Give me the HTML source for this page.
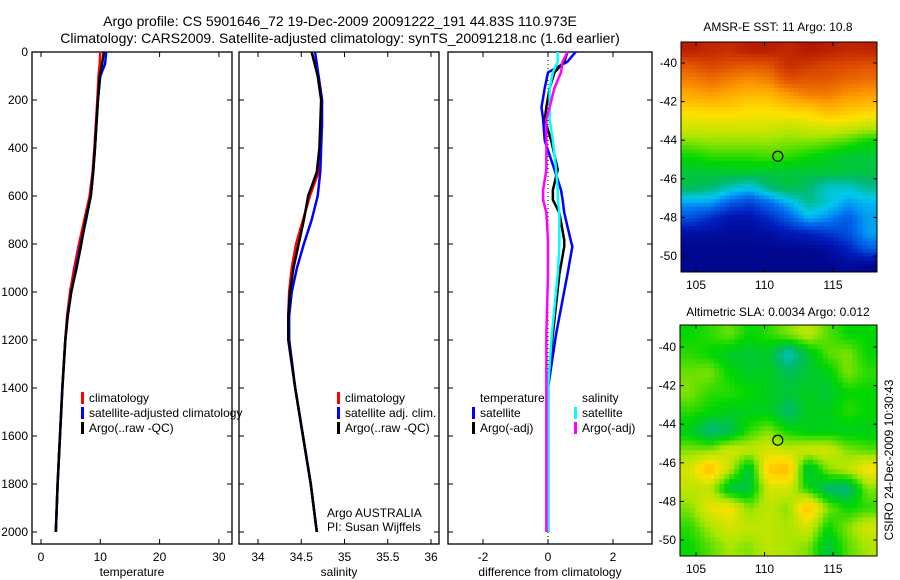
<!DOCTYPE html>
<html><head><meta charset="utf-8"><style>
body{margin:0;background:#fff;}
svg{display:block;font-family:"Liberation Sans",sans-serif;}
</style></head><body>
<svg id="s" width="900" height="580" xmlns="http://www.w3.org/2000/svg">
<text x="340" y="26" font-size="14" text-anchor="middle">Argo profile: CS 5901646_72 19-Dec-2009 20091222_191 44.83S 110.973E</text>
<text x="340" y="43" font-size="14" text-anchor="middle">Climatology: CARS2009. Satellite-adjusted climatology: synTS_20091218.nc (1.6d earlier)</text>
<text x="778" y="31" font-size="12" text-anchor="middle">AMSR-E SST: 11 Argo: 10.8</text>
<text x="778" y="316" font-size="12" text-anchor="middle">Altimetric SLA: 0.0034 Argo: 0.012</text>
<text transform="translate(893,460) rotate(-90)" font-size="12" text-anchor="middle">CSIRO 24-Dec-2009 10:30:43</text>
<g id="g"></g>
</svg>
<script>
// ---------- data ----------
const depthTemp=[0,50,100,200,400,500,600,700,800,900,1000,1100,1200,1400,1600,1800,2000];
const tempClim=[10.0,9.9,9.7,9.5,9.0,8.7,8.2,7.3,6.4,5.6,4.9,4.4,4.1,3.6,3.2,2.8,2.5];
const tempSat=[11.0,10.8,10.0,9.6,9.1,8.8,8.4,7.6,6.7,5.9,5.1,4.5,4.1,3.6,3.2,2.8,2.5];
const tempArgo=[10.6,10.3,9.9,9.6,9.1,8.8,8.4,7.5,6.8,6.0,5.1,4.5,4.1,3.6,3.2,2.8,2.5];
const depthSal=[0,100,200,300,400,500,600,700,800,900,1000,1100,1200,1400,1600,1800,2000];
const salClim=[34.62,34.70,34.74,34.73,34.72,34.70,34.60,34.52,34.44,34.39,34.36,34.35,34.36,34.43,34.52,34.61,34.68];
const salSat=[34.66,34.70,34.74,34.74,34.73,34.72,34.69,34.62,34.53,34.45,34.39,34.36,34.36,34.43,34.52,34.61,34.68];
const salArgo=[34.62,34.69,34.73,34.72,34.71,34.68,34.58,34.53,34.47,34.41,34.37,34.35,34.35,34.43,34.52,34.61,34.68];
const depthDiff=[0,40,85,150,230,280,370,490,575,616,670,785,810,925,1175,1400,1700,2000];
const dTempSat=[0.85,0.6,0.0,-0.1,-0.2,-0.15,-0.1,0.2,0.4,0.45,0.5,0.7,0.75,0.6,0.25,0.0,0.0,0.0];
const dTempArgo=[0.6,0.5,0.2,0.05,-0.05,-0.1,0.1,0.3,0.15,0.15,0.35,0.5,0.5,0.35,0.15,0.0,0.0,0.0];
const dSalSat=[0.3,0.3,0.15,0.05,0.05,0.05,0.15,0.25,0.3,0.3,0.35,0.35,0.35,0.3,0.12,0.0,0.0,0.0];
const dSalArgo=[0.6,0.45,0.4,0.2,0.05,-0.05,-0.05,-0.05,-0.15,-0.15,-0.05,0.0,0.0,0.0,-0.05,-0.05,-0.05,-0.05];
const sstGrid=[
[0.95,0.93,0.92,0.95,0.95,0.93,0.96,0.95,0.93,0.94],
[0.85,0.88,0.86,0.85,0.86,0.92,0.9,0.88,0.87,0.86],
[0.80,0.82,0.80,0.78,0.80,0.86,0.85,0.85,0.83,0.82],
[0.74,0.76,0.74,0.72,0.72,0.76,0.80,0.80,0.77,0.76],
[0.67,0.68,0.68,0.66,0.66,0.68,0.68,0.72,0.70,0.68],
[0.62,0.62,0.62,0.62,0.62,0.60,0.62,0.63,0.62,0.60],
[0.56,0.57,0.57,0.57,0.57,0.56,0.56,0.55,0.53,0.50],
[0.50,0.52,0.52,0.52,0.53,0.52,0.50,0.48,0.46,0.46],
[0.46,0.46,0.47,0.47,0.46,0.46,0.46,0.46,0.46,0.45],
[0.44,0.42,0.38,0.34,0.42,0.45,0.42,0.36,0.36,0.40],
[0.30,0.30,0.22,0.18,0.24,0.32,0.40,0.36,0.30,0.32],
[0.20,0.14,0.08,0.08,0.14,0.22,0.32,0.28,0.22,0.30],
[0.06,0.06,0.05,0.05,0.06,0.10,0.12,0.16,0.20,0.30],
[0.03,0.03,0.03,0.03,0.03,0.03,0.03,0.05,0.12,0.22],
[0.03,0.03,0.03,0.03,0.03,0.03,0.03,0.03,0.05,0.03]];
const slaGrid=[
[0.50,0.52,0.55,0.50,0.52,0.56,0.60,0.54,0.50,0.50],
[0.52,0.50,0.47,0.46,0.47,0.36,0.46,0.54,0.56,0.50],
[0.55,0.56,0.50,0.47,0.48,0.44,0.46,0.48,0.56,0.52],
[0.56,0.52,0.52,0.50,0.48,0.46,0.48,0.46,0.50,0.50],
[0.52,0.50,0.48,0.48,0.48,0.42,0.48,0.48,0.52,0.50],
[0.48,0.41,0.43,0.52,0.56,0.50,0.48,0.48,0.48,0.48],
[0.56,0.56,0.62,0.60,0.62,0.60,0.62,0.62,0.56,0.54],
[0.62,0.72,0.60,0.45,0.70,0.72,0.44,0.56,0.60,0.66],
[0.60,0.60,0.45,0.45,0.62,0.62,0.50,0.42,0.40,0.56],
[0.56,0.64,0.66,0.56,0.60,0.56,0.72,0.56,0.50,0.52],
[0.52,0.58,0.62,0.60,0.60,0.58,0.62,0.50,0.56,0.62],
[0.50,0.54,0.58,0.56,0.60,0.58,0.56,0.45,0.54,0.58]];
// ---------- helpers ----------
const NS='http://www.w3.org/2000/svg';
const G=document.getElementById('g');
function mk(t,a,p){const e=document.createElementNS(NS,t);for(const k in a)e.setAttribute(k,a[k]);(p||G).appendChild(e);return e;}
const STOPS=[[0,[0,0,128]],[0.12,[0,30,190]],[0.25,[0,110,240]],[0.34,[0,200,240]],[0.42,[0,185,110]],[0.5,[0,215,0]],[0.58,[170,230,0]],[0.66,[255,225,0]],[0.76,[255,160,0]],[0.86,[225,80,0]],[1,[160,0,0]]];
function cmap(v){v=Math.max(0,Math.min(1,v));
 for(let i=1;i<STOPS.length;i++){if(v<=STOPS[i][0]){const a=STOPS[i-1],b=STOPS[i],t=(v-a[0])/(b[0]-a[0]);
  return 'rgb('+a[1].map((c,k)=>Math.round(c+(b[1][k]-c)*t)).join(',')+')';}}
 return 'rgb(160,0,0)';}
const yDepth=d=>52+d*0.24;
const TOP=52,BOT=544;
function panel(name,x0,x1,ticks,xf,xlabel){
 const r=mk('rect',{x:x0,y:TOP,width:x1-x0,height:BOT-TOP,fill:'none',stroke:'#000','stroke-width':1.3});
 
 
 ticks.forEach(t=>{const x=xf(t);
  mk('line',{x1:x,x2:x,y1:BOT,y2:BOT-5,stroke:'#000'});mk('line',{x1:x,x2:x,y1:TOP,y2:TOP+5,stroke:'#000'});
  const tx=mk('text',{x:x,y:BOT+17,'font-size':12,'text-anchor':'middle'});tx.textContent=t;
  
  });
 for(let d=0;d<=2000;d+=200){const y=yDepth(d);
  mk('line',{x1:x0,x2:x0+5,y1:y,y2:y,stroke:'#000'});mk('line',{x1:x1,x2:x1-5,y1:y,y2:y,stroke:'#000'});}
 const xl=mk('text',{x:(x0+x1)/2,y:576,'font-size':12,'text-anchor':'middle'});xl.textContent=xlabel;
 
 
}
function line(name,ds,vs,xf,col,w){
 const p=mk('polyline',{points:ds.map((d,i)=>xf(vs[i])+','+yDepth(d)).join(' '),fill:'none',stroke:col,'stroke-width':w||2.5});
 
 
}
function legend(name,x,y,items){items.forEach((it,i)=>{
 mk('rect',{x:x,y:y+i*15-10,width:3,height:12,fill:it[1]});
 const t=mk('text',{x:x+8,y:y+i*15,'font-size':12});t.textContent=it[0];
 
 });}
for(let d=0;d<=2000;d+=200){const t=mk('text',{x:28,y:yDepth(d)+4,'font-size':12,'text-anchor':'end'});t.textContent=d;
 
 }
const xT=v=>41+v*5.93;
panel('temperature-panel',32,232,[0,10,20,30],xT,'temperature');
line('temp-climatology-line',depthTemp,tempClim,xT,'#f00');
line('temp-satellite-line',depthTemp,tempSat,xT,'#00f');
line('temp-argo-line',depthTemp,tempArgo,xT,'#000');
legend('temp-legend',81,402,[['climatology','#f00'],['satellite-adjusted climatology','#00f'],['Argo(..raw -QC)','#000']]);
const xS=v=>258+(v-34)*86.5;
panel('salinity-panel',239,439,[34,34.5,35,35.5,36],xS,'salinity');
line('sal-climatology-line',depthSal,salClim,xS,'#f00');
line('sal-satellite-line',depthSal,salSat,xS,'#00f');
line('sal-argo-line',depthSal,salArgo,xS,'#000');
legend('sal-legend',337,402,[['climatology','#f00'],['satellite adj. clim.','#00f'],['Argo(..raw -QC)','#000']]);
let t1=mk('text',{x:327,y:517,'font-size':12});t1.textContent='Argo AUSTRALIA';

let t2=mk('text',{x:327,y:531,'font-size':12});t2.textContent='PI: Susan Wijffels';

const xD=v=>548+v*32.5;
panel('difference-panel',448,652,[-2,0,2],xD,'difference from climatology');
mk('line',{x1:xD(0),x2:xD(0),y1:TOP,y2:BOT,stroke:'#000','stroke-dasharray':'1,3'});
line('dtemp-satellite-line',depthDiff,dTempSat,xD,'#00f');
line('dtemp-argo-line',depthDiff,dTempArgo,xD,'#000');
line('dsal-satellite-line',depthDiff,dSalSat,xD,'#0ff');
line('dsal-argo-line',depthDiff,dSalArgo,xD,'#f0f');
let lt=mk('text',{x:480,y:402,'font-size':12});lt.textContent='temperature';

let ls=mk('text',{x:582,y:402,'font-size':12});ls.textContent='salinity';

legend('diff-temp-legend',472,417,[['satellite','#00f'],['Argo(-adj)','#000']]);
legend('diff-sal-legend',574,417,[['satellite','#0ff'],['Argo(-adj)','#f0f']]);
function sample(grid,fy,fx){ // bilinear on cell centres
 const nr=grid.length,nc=grid[0].length;
 let y=fy*nr-0.5,x=fx*nc-0.5;y=Math.max(0,Math.min(nr-1,y));x=Math.max(0,Math.min(nc-1,x));
 const i=Math.floor(y),j=Math.floor(x),i2=Math.min(nr-1,i+1),j2=Math.min(nc-1,j+1),ty=y-i,tx=x-j;
 return grid[i][j]*(1-ty)*(1-tx)+grid[i][j2]*(1-ty)*tx+grid[i2][j]*ty*(1-tx)+grid[i2][j2]*ty*tx;}
function map(name,x0,x1,y0,y1,grid,lat0y,lat50y){
 const NR=grid.length*4,NC=grid[0].length*4,cw=(x1-x0)/NC,ch=(y1-y0)/NR;
 for(let i=0;i<NR;i++)for(let j=0;j<NC;j++){
  const v=sample(grid,(i+0.5)/NR,(j+0.5)/NC);
  const c=mk('rect',{x:x0+j*cw,y:y0+i*ch,width:cw+0.5,height:ch+0.5,fill:cmap(v)});
  
  }
 const f=mk('rect',{x:x0,y:y0,width:x1-x0,height:y1-y0,fill:'none',stroke:'#000'});
 
 const lon=v=>696+(v-105)*13.7, lat=v=>lat0y+(-40-v)*(lat50y-lat0y)/10;
 [105,110,115].forEach(v=>{mk('line',{x1:lon(v),x2:lon(v),y1:y0,y2:y0+4,stroke:'#000'});mk('line',{x1:lon(v),x2:lon(v),y1:y1,y2:y1-4,stroke:'#000'});
  const t=mk('text',{x:lon(v),y:y1+17,'font-size':12,'text-anchor':'middle'});t.textContent=v;
  });
 [-40,-42,-44,-46,-48,-50].forEach(v=>{const y=lat(v);
  mk('line',{x1:x1,x2:x1-4,y1:y,y2:y,stroke:'#000'});mk('line',{x1:x0,x2:x0+4,y1:y,y2:y,stroke:'#000'});
  const t=mk('text',{x:x0-4,y:y+4,'font-size':12,'text-anchor':'end'});t.textContent=v;
  });
 const c=mk('circle',{cx:lon(110.97),cy:lat(-44.83),r:5,fill:'none',stroke:'#000','stroke-width':1.2});
 
}
map('sst-map',681,877,42,272,sstGrid,63,256);
map('sla-map',680,877,325,556,slaGrid,347,540);
</script>
</body></html>
